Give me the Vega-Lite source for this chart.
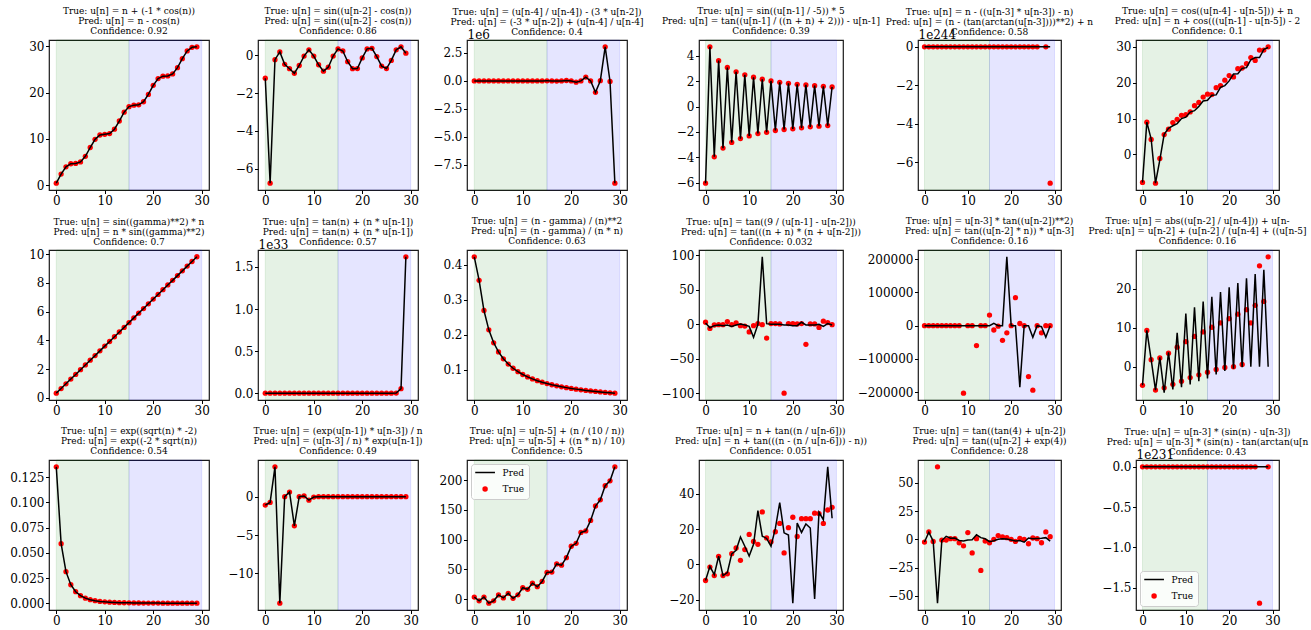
{
"$schema": "https://vega.github.io/schema/vega-lite/v6.json",
"background": "white",
"padding": {"left": 9, "top": 6, "right": 0, "bottom": 0},
"autosize": {"type": "pad"},
"datasets": {"regions": [{"part": "train", "from": 0, "to": 15}, {"part": "test", "from": 15, "to": 30}]},
"columns": 11,
"bounds": "flush",
"spacing": {"row": 60, "column": 0},
"resolve": {"scale": {"x": "independent", "y": "independent", "color": "independent", "shape": "independent", "stroke": "independent"}},
"config": {
  "view": {"stroke": "#1a1a1a", "strokeWidth": 1.2},
  "axis": {"grid": false, "domain": false, "tickColor": "black", "tickSize": 3.5, "tickWidth": 1, "labelFont": "DejaVu Serif", "labelFontSize": 12, "labelColor": "black", "labelFlush": false, "labelOverlap": false, "titleFont": "DejaVu Serif", "titleFontSize": 12, "titleFontWeight": "normal", "titleColor": "black"},
  "axisX": {"labelPadding": 2},
  "axisY": {"labelPadding": 1.5},
  "title": {"font": "DejaVu Serif", "fontSize": 9, "fontWeight": "normal", "color": "black", "lineHeight": 10.2, "baseline": "bottom", "offset": 3, "frame": "group", "anchor": "middle"}
},
"concat": [
{"width": 160, "height": 150, "title": {"text": ["True: u[n] = n + (-1 * cos(n))", "Pred: u[n] = n - cos(n)", "Confidence: 0.92"]},
 "data": {"values": [{"n":0,"actual":0.46,"predicted":0.46},{"n":1,"actual":2.42,"predicted":2.42},{"n":2,"actual":3.99,"predicted":3.99},{"n":3,"actual":4.65,"predicted":4.65},{"n":4,"actual":4.72,"predicted":4.72},{"n":5,"actual":5.04,"predicted":5.04},{"n":6,"actual":6.25,"predicted":6.25},{"n":7,"actual":8.15,"predicted":8.15},{"n":8,"actual":9.91,"predicted":9.91},{"n":9,"actual":10.84,"predicted":10.84},{"n":10,"actual":11.0,"predicted":11.0},{"n":11,"actual":11.16,"predicted":11.16},{"n":12,"actual":12.09,"predicted":12.09},{"n":13,"actual":13.86,"predicted":13.86},{"n":14,"actual":15.76,"predicted":15.76},{"n":15,"actual":16.96,"predicted":16.96},{"n":16,"actual":17.28,"predicted":17.28},{"n":17,"actual":17.34,"predicted":17.34},{"n":18,"actual":18.01,"predicted":18.01},{"n":19,"actual":19.59,"predicted":19.59},{"n":20,"actual":21.55,"predicted":21.55},{"n":21,"actual":23.0,"predicted":23.0},{"n":22,"actual":23.53,"predicted":23.53},{"n":23,"actual":23.58,"predicted":23.58},{"n":24,"actual":24.01,"predicted":24.01},{"n":25,"actual":25.35,"predicted":25.35},{"n":26,"actual":27.29,"predicted":27.29},{"n":27,"actual":28.96,"predicted":28.96},{"n":28,"actual":29.75,"predicted":29.75},{"n":29,"actual":29.85,"predicted":29.85}]},
 "layer": [
  {"data": {"name": "regions"}, "mark": {"type": "rect", "fillOpacity": 0.1, "strokeOpacity": 0.1, "strokeWidth": 1}, "encoding": {"x": {"field": "from", "type": "quantitative", "scale": {"domain": [-1.5, 31.5], "nice": false, "zero": false}, "axis": {"values": [0, 10, 20, 30], "tickCount": 10, "format": "d", "title": null}}, "x2": {"field": "to"}, "fill": {"field": "part", "type": "nominal", "scale": {"domain": ["train", "test"], "range": ["green", "blue"]}, "legend": null}, "stroke": {"field": "part", "type": "nominal", "scale": {"domain": ["train", "test"], "range": ["green", "blue"]}, "legend": null}}},
  {"mark": {"type": "circle", "color": "red", "size": 28, "opacity": 1}, "encoding": {"x": {"field": "n", "type": "quantitative"}, "y": {"field": "actual", "type": "quantitative", "scale": {"domain": [-1.01, 31.32], "nice": false, "zero": false}, "axis": {"values": [0, 10, 20, 30], "tickCount": 10, "format": "d", "title": null}}}},
  {"mark": {"type": "line", "color": "black", "strokeWidth": 1.5}, "encoding": {"x": {"field": "n", "type": "quantitative"}, "y": {"field": "predicted", "type": "quantitative", "scale": {"domain": [-1.01, 31.32], "nice": false, "zero": false}}}}
 ]},
{"width": 49, "height": 150, "data": {"values": []}, "mark": "point", "view": {"stroke": null}},
{"width": 160, "height": 150, "title": {"text": ["True: u[n] = sin((u[n-2] - cos(n))", "Pred: u[n] = sin((u[n-2] - cos(n))", "Confidence: 0.86"]},
 "data": {"values": [{"n":0,"actual":-1.21,"predicted":-1.21},{"n":1,"actual":-6.77,"predicted":-6.77},{"n":2,"actual":-0.23,"predicted":-0.23},{"n":3,"actual":0.18,"predicted":0.18},{"n":4,"actual":-0.48,"predicted":-0.48},{"n":5,"actual":-0.71,"predicted":-0.71},{"n":6,"actual":-0.95,"predicted":-0.95},{"n":7,"actual":-0.54,"predicted":-0.54},{"n":8,"actual":-0.04,"predicted":-0.04},{"n":9,"actual":0.29,"predicted":0.29},{"n":10,"actual":-0.04,"predicted":-0.04},{"n":11,"actual":-0.5,"predicted":-0.5},{"n":12,"actual":-0.84,"predicted":-0.84},{"n":13,"actual":-0.63,"predicted":-0.63},{"n":14,"actual":-0.04,"predicted":-0.04},{"n":15,"actual":0.34,"predicted":0.34},{"n":16,"actual":0.23,"predicted":0.23},{"n":17,"actual":-0.34,"predicted":-0.34},{"n":18,"actual":-0.71,"predicted":-0.71},{"n":19,"actual":-0.7,"predicted":-0.7},{"n":20,"actual":-0.14,"predicted":-0.14},{"n":21,"actual":0.34,"predicted":0.34},{"n":22,"actual":0.37,"predicted":0.37},{"n":23,"actual":-0.07,"predicted":-0.07},{"n":24,"actual":-0.57,"predicted":-0.57},{"n":25,"actual":-0.7,"predicted":-0.7},{"n":26,"actual":-0.27,"predicted":-0.27},{"n":27,"actual":0.29,"predicted":0.29},{"n":28,"actual":0.45,"predicted":0.45},{"n":29,"actual":0.11,"predicted":0.11}]},
 "layer": [
  {"data": {"name": "regions"}, "mark": {"type": "rect", "fillOpacity": 0.1, "strokeOpacity": 0.1, "strokeWidth": 1}, "encoding": {"x": {"field": "from", "type": "quantitative", "scale": {"domain": [-1.5, 31.5], "nice": false, "zero": false}, "axis": {"values": [0, 10, 20, 30], "tickCount": 10, "format": "d", "title": null}}, "x2": {"field": "to"}, "fill": {"field": "part", "type": "nominal", "scale": {"domain": ["train", "test"], "range": ["green", "blue"]}, "legend": null}, "stroke": {"field": "part", "type": "nominal", "scale": {"domain": ["train", "test"], "range": ["green", "blue"]}, "legend": null}}},
  {"mark": {"type": "circle", "color": "red", "size": 28, "opacity": 1}, "encoding": {"x": {"field": "n", "type": "quantitative"}, "y": {"field": "actual", "type": "quantitative", "scale": {"domain": [-7.13, 0.81], "nice": false, "zero": false}, "axis": {"values": [-6, -4, -2, 0], "tickCount": 10, "format": "d", "title": null}}}},
  {"mark": {"type": "line", "color": "black", "strokeWidth": 1.5}, "encoding": {"x": {"field": "n", "type": "quantitative"}, "y": {"field": "predicted", "type": "quantitative", "scale": {"domain": [-7.13, 0.81], "nice": false, "zero": false}}}}
 ]},
{"width": 49, "height": 150, "data": {"values": []}, "mark": "point", "view": {"stroke": null}},
{"width": 160, "height": 150, "title": {"text": ["True: u[n] = (u[n-4] / u[n-4]) - (3 * u[n-2])", "Pred: u[n] = (-3 * u[n-2]) + (u[n-4] / u[n-4]", "Confidence: 0.4"], "offset": -9},
 "data": {"values": [{"n":0,"actual":0.24,"predicted":0.24},{"n":1,"actual":-1.7,"predicted":-1.7},{"n":2,"actual":0.28,"predicted":0.28},{"n":3,"actual":6,"predicted":6},{"n":4,"actual":0.16,"predicted":0.16},{"n":5,"actual":-17,"predicted":-17},{"n":6,"actual":0.53,"predicted":0.53},{"n":7,"actual":52,"predicted":52},{"n":8,"actual":-0.6,"predicted":-0.6},{"n":9,"actual":-155,"predicted":-155},{"n":10,"actual":2.8,"predicted":2.8},{"n":11,"actual":465,"predicted":465},{"n":12,"actual":-7.4,"predicted":-7.4},{"n":13,"actual":-1395,"predicted":-1395},{"n":14,"actual":23,"predicted":23},{"n":15,"actual":4185,"predicted":4185},{"n":16,"actual":-68,"predicted":-68},{"n":17,"actual":-12553,"predicted":-12553},{"n":18,"actual":206,"predicted":206},{"n":19,"actual":37660,"predicted":37660},{"n":20,"actual":-617,"predicted":-617},{"n":21,"actual":-113000,"predicted":-113000},{"n":22,"actual":1852,"predicted":1852},{"n":23,"actual":339000,"predicted":339000},{"n":24,"actual":-5555,"predicted":-5555},{"n":25,"actual":-1017000,"predicted":-1017000},{"n":26,"actual":16667,"predicted":16667},{"n":27,"actual":3050000,"predicted":3050000},{"n":28,"actual":-50000,"predicted":-50000},{"n":29,"actual":-9150000,"predicted":-9150000}]},
 "layer": [
  {"data": {"name": "regions"}, "mark": {"type": "rect", "fillOpacity": 0.1, "strokeOpacity": 0.1, "strokeWidth": 1}, "encoding": {"x": {"field": "from", "type": "quantitative", "scale": {"domain": [-1.5, 31.5], "nice": false, "zero": false}, "axis": {"values": [0, 10, 20, 30], "tickCount": 10, "format": "d", "title": null}}, "x2": {"field": "to"}, "fill": {"field": "part", "type": "nominal", "scale": {"domain": ["train", "test"], "range": ["green", "blue"]}, "legend": null}, "stroke": {"field": "part", "type": "nominal", "scale": {"domain": ["train", "test"], "range": ["green", "blue"]}, "legend": null}}},
  {"mark": {"type": "circle", "color": "red", "size": 28, "opacity": 1}, "encoding": {"x": {"field": "n", "type": "quantitative"}, "y": {"field": "actual", "type": "quantitative", "scale": {"domain": [-9.76e6, 3.66e6], "nice": false, "zero": false}, "axis": {"values": [-7.5e6, -5e6, -2.5e6, 0, 2.5e6], "tickCount": 10, "labelExpr": "format(datum.value/1e6, '.1f')", "title": "1e6", "titleAngle": 0, "titleX": 0, "titleY": -2, "titleAlign": "left", "titleBaseline": "alphabetic"}}}},
  {"mark": {"type": "line", "color": "black", "strokeWidth": 1.5}, "encoding": {"x": {"field": "n", "type": "quantitative"}, "y": {"field": "predicted", "type": "quantitative", "scale": {"domain": [-9.76e6, 3.66e6], "nice": false, "zero": false}}}}
 ]},
{"width": 72, "height": 150, "data": {"values": []}, "mark": "point", "view": {"stroke": null}},
{"width": 144, "height": 150, "title": {"text": ["True: u[n] = sin((u[n-1] / -5)) * 5", "Pred: u[n] = tan((u[n-1] / ((n + n) + 2))) - u[n-1]", "Confidence: 0.39"]},
 "data": {"values": [{"n":0,"actual":-6.05,"predicted":-6.05},{"n":1,"actual":4.72,"predicted":4.72},{"n":2,"actual":-3.97,"predicted":-3.97},{"n":3,"actual":3.63,"predicted":3.63},{"n":4,"actual":-3.28,"predicted":-3.28},{"n":5,"actual":3.09,"predicted":3.09},{"n":6,"actual":-2.83,"predicted":-2.83},{"n":7,"actual":2.75,"predicted":2.75},{"n":8,"actual":-2.53,"predicted":-2.53},{"n":9,"actual":2.51,"predicted":2.51},{"n":10,"actual":-2.32,"predicted":-2.32},{"n":11,"actual":2.32,"predicted":2.32},{"n":12,"actual":-2.13,"predicted":-2.13},{"n":13,"actual":2.16,"predicted":2.16},{"n":14,"actual":-2.03,"predicted":-2.03},{"n":15,"actual":2.03,"predicted":2.03},{"n":16,"actual":-1.89,"predicted":-1.89},{"n":17,"actual":1.92,"predicted":1.92},{"n":18,"actual":-1.81,"predicted":-1.81},{"n":19,"actual":1.84,"predicted":1.84},{"n":20,"actual":-1.76,"predicted":-1.76},{"n":21,"actual":1.76,"predicted":1.76},{"n":22,"actual":-1.68,"predicted":-1.68},{"n":23,"actual":1.71,"predicted":1.71},{"n":24,"actual":-1.6,"predicted":-1.6},{"n":25,"actual":1.65,"predicted":1.65},{"n":26,"actual":-1.55,"predicted":-1.55},{"n":27,"actual":1.6,"predicted":1.6},{"n":28,"actual":-1.5,"predicted":-1.5},{"n":29,"actual":1.55,"predicted":1.55}]},
 "layer": [
  {"data": {"name": "regions"}, "mark": {"type": "rect", "fillOpacity": 0.1, "strokeOpacity": 0.1, "strokeWidth": 1}, "encoding": {"x": {"field": "from", "type": "quantitative", "scale": {"domain": [-1.5, 31.5], "nice": false, "zero": false}, "axis": {"values": [0, 10, 20, 30], "tickCount": 10, "format": "d", "title": null}}, "x2": {"field": "to"}, "fill": {"field": "part", "type": "nominal", "scale": {"domain": ["train", "test"], "range": ["green", "blue"]}, "legend": null}, "stroke": {"field": "part", "type": "nominal", "scale": {"domain": ["train", "test"], "range": ["green", "blue"]}, "legend": null}}},
  {"mark": {"type": "circle", "color": "red", "size": 28, "opacity": 1}, "encoding": {"x": {"field": "n", "type": "quantitative"}, "y": {"field": "actual", "type": "quantitative", "scale": {"domain": [-6.59, 5.26], "nice": false, "zero": false}, "axis": {"values": [-6, -4, -2, 0, 2, 4], "tickCount": 10, "format": "d", "title": null}}}},
  {"mark": {"type": "line", "color": "black", "strokeWidth": 1.5}, "encoding": {"x": {"field": "n", "type": "quantitative"}, "y": {"field": "predicted", "type": "quantitative", "scale": {"domain": [-6.59, 5.26], "nice": false, "zero": false}}}}
 ]},
{"width": 75, "height": 150, "data": {"values": []}, "mark": "point", "view": {"stroke": null}},
{"width": 143, "height": 150, "title": {"text": ["True: u[n] = n - ((u[n-3] * u[n-3]) - n)", "Pred: u[n] = (n - (tan(arctan(u[n-3])))**2) + n", "Confidence: 0.58"], "offset": -9},
 "data": {"values": [{"n":0,"actual":0,"predicted":0},{"n":1,"actual":0,"predicted":0},{"n":2,"actual":0,"predicted":0},{"n":3,"actual":0,"predicted":0},{"n":4,"actual":0,"predicted":0},{"n":5,"actual":0,"predicted":0},{"n":6,"actual":0,"predicted":0},{"n":7,"actual":0,"predicted":0},{"n":8,"actual":0,"predicted":0},{"n":9,"actual":0,"predicted":0},{"n":10,"actual":0,"predicted":0},{"n":11,"actual":0,"predicted":0},{"n":12,"actual":0,"predicted":0},{"n":13,"actual":0,"predicted":0},{"n":14,"actual":0,"predicted":0},{"n":15,"actual":0,"predicted":0},{"n":16,"actual":0,"predicted":0},{"n":17,"actual":0,"predicted":0},{"n":18,"actual":0,"predicted":0},{"n":19,"actual":0,"predicted":0},{"n":20,"actual":0,"predicted":0},{"n":21,"actual":0,"predicted":0},{"n":22,"actual":0,"predicted":0},{"n":23,"actual":0,"predicted":0},{"n":24,"actual":0,"predicted":0},{"n":25,"actual":0,"predicted":0},{"n":26,"actual":0,"predicted":0},{"n":27,"actual":null,"predicted":0},{"n":28,"actual":0,"predicted":0},{"n":29,"actual":-7.1e244,"predicted":0}]},
 "layer": [
  {"data": {"name": "regions"}, "mark": {"type": "rect", "fillOpacity": 0.1, "strokeOpacity": 0.1, "strokeWidth": 1}, "encoding": {"x": {"field": "from", "type": "quantitative", "scale": {"domain": [-1.5, 31.5], "nice": false, "zero": false}, "axis": {"values": [0, 10, 20, 30], "tickCount": 10, "format": "d", "title": null}}, "x2": {"field": "to"}, "fill": {"field": "part", "type": "nominal", "scale": {"domain": ["train", "test"], "range": ["green", "blue"]}, "legend": null}, "stroke": {"field": "part", "type": "nominal", "scale": {"domain": ["train", "test"], "range": ["green", "blue"]}, "legend": null}}},
  {"mark": {"type": "circle", "color": "red", "size": 28, "opacity": 1}, "encoding": {"x": {"field": "n", "type": "quantitative"}, "y": {"field": "actual", "type": "quantitative", "scale": {"domain": [-7.455e244, 0.355e244], "nice": false, "zero": false}, "axis": {"values": [-6e244, -4e244, -2e244, 0], "tickCount": 10, "labelExpr": "format(datum.value/1e244, '.0f')", "title": "1e244", "titleAngle": 0, "titleX": 0, "titleY": -2, "titleAlign": "left", "titleBaseline": "alphabetic"}}}},
  {"mark": {"type": "line", "color": "black", "strokeWidth": 1.5}, "encoding": {"x": {"field": "n", "type": "quantitative"}, "y": {"field": "predicted", "type": "quantitative", "scale": {"domain": [-7.455e244, 0.355e244], "nice": false, "zero": false}}}}
 ]},
{"width": 75, "height": 150, "data": {"values": []}, "mark": "point", "view": {"stroke": null}},
{"width": 143, "height": 150, "title": {"text": ["True: u[n] = cos((u[n-4] - u[n-5])) + n", "Pred: u[n] = n + cos(((u[n-1] - u[n-5]) - 2", "Confidence: 0.1"]},
 "data": {"values": [{"n":0,"actual":-7.8,"predicted":-7.8},{"n":1,"actual":9.0,"predicted":9.0},{"n":2,"actual":4.2,"predicted":4.3},{"n":3,"actual":-8.0,"predicted":-8.0},{"n":4,"actual":-1.1,"predicted":-1.5},{"n":5,"actual":5.55,"predicted":5.6},{"n":6,"actual":7.05,"predicted":7.3},{"n":7,"actual":8.9,"predicted":8.0},{"n":8,"actual":9.8,"predicted":8.6},{"n":9,"actual":10.9,"predicted":10.0},{"n":10,"actual":11.1,"predicted":10.4},{"n":11,"actual":11.85,"predicted":11.8},{"n":12,"actual":13.6,"predicted":12.2},{"n":13,"actual":14.5,"predicted":13.4},{"n":14,"actual":16.0,"predicted":14.9},{"n":15,"actual":16.8,"predicted":15.1},{"n":16,"actual":16.7,"predicted":16.5},{"n":17,"actual":18.6,"predicted":16.6},{"n":18,"actual":19.2,"predicted":18.7},{"n":19,"actual":20.7,"predicted":19.2},{"n":20,"actual":22.0,"predicted":20.5},{"n":21,"actual":21.6,"predicted":22.4},{"n":22,"actual":23.9,"predicted":22.5},{"n":23,"actual":24.1,"predicted":24.0},{"n":24,"actual":25.3,"predicted":24.2},{"n":25,"actual":27.0,"predicted":26.4},{"n":26,"actual":26.2,"predicted":27.0},{"n":27,"actual":29.1,"predicted":27.0},{"n":28,"actual":29.1,"predicted":29.3},{"n":29,"actual":30.0,"predicted":29.8}]},
 "layer": [
  {"data": {"name": "regions"}, "mark": {"type": "rect", "fillOpacity": 0.1, "strokeOpacity": 0.1, "strokeWidth": 1}, "encoding": {"x": {"field": "from", "type": "quantitative", "scale": {"domain": [-1.5, 31.5], "nice": false, "zero": false}, "axis": {"values": [0, 10, 20, 30], "tickCount": 10, "format": "d", "title": null}}, "x2": {"field": "to"}, "fill": {"field": "part", "type": "nominal", "scale": {"domain": ["train", "test"], "range": ["green", "blue"]}, "legend": null}, "stroke": {"field": "part", "type": "nominal", "scale": {"domain": ["train", "test"], "range": ["green", "blue"]}, "legend": null}}},
  {"mark": {"type": "circle", "color": "red", "size": 28, "opacity": 1}, "encoding": {"x": {"field": "n", "type": "quantitative"}, "y": {"field": "actual", "type": "quantitative", "scale": {"domain": [-9.9, 31.9], "nice": false, "zero": false}, "axis": {"values": [0, 10, 20, 30], "tickCount": 10, "format": "d", "title": null}}}},
  {"mark": {"type": "line", "color": "black", "strokeWidth": 1.5}, "encoding": {"x": {"field": "n", "type": "quantitative"}, "y": {"field": "predicted", "type": "quantitative", "scale": {"domain": [-9.9, 31.9], "nice": false, "zero": false}}}}
 ]},
{"width": 160, "height": 150, "title": {"text": ["True: u[n] = sin((gamma)**2) * n", "Pred: u[n] = n * sin((gamma)**2)", "Confidence: 0.7"], "offset": 1},
 "data": {"values": [{"n":0,"actual":0.33,"predicted":0.33},{"n":1,"actual":0.65,"predicted":0.65},{"n":2,"actual":0.98,"predicted":0.98},{"n":3,"actual":1.31,"predicted":1.31},{"n":4,"actual":1.63,"predicted":1.63},{"n":5,"actual":1.96,"predicted":1.96},{"n":6,"actual":2.29,"predicted":2.29},{"n":7,"actual":2.62,"predicted":2.62},{"n":8,"actual":2.94,"predicted":2.94},{"n":9,"actual":3.27,"predicted":3.27},{"n":10,"actual":3.6,"predicted":3.6},{"n":11,"actual":3.92,"predicted":3.92},{"n":12,"actual":4.25,"predicted":4.25},{"n":13,"actual":4.58,"predicted":4.58},{"n":14,"actual":4.9,"predicted":4.9},{"n":15,"actual":5.23,"predicted":5.23},{"n":16,"actual":5.56,"predicted":5.56},{"n":17,"actual":5.89,"predicted":5.89},{"n":18,"actual":6.21,"predicted":6.21},{"n":19,"actual":6.54,"predicted":6.54},{"n":20,"actual":6.87,"predicted":6.87},{"n":21,"actual":7.19,"predicted":7.19},{"n":22,"actual":7.52,"predicted":7.52},{"n":23,"actual":7.85,"predicted":7.85},{"n":24,"actual":8.17,"predicted":8.17},{"n":25,"actual":8.5,"predicted":8.5},{"n":26,"actual":8.83,"predicted":8.83},{"n":27,"actual":9.16,"predicted":9.16},{"n":28,"actual":9.48,"predicted":9.48},{"n":29,"actual":9.81,"predicted":9.81}]},
 "layer": [
  {"data": {"name": "regions"}, "mark": {"type": "rect", "fillOpacity": 0.1, "strokeOpacity": 0.1, "strokeWidth": 1}, "encoding": {"x": {"field": "from", "type": "quantitative", "scale": {"domain": [-1.5, 31.5], "nice": false, "zero": false}, "axis": {"values": [0, 10, 20, 30], "tickCount": 10, "format": "d", "title": null}}, "x2": {"field": "to"}, "fill": {"field": "part", "type": "nominal", "scale": {"domain": ["train", "test"], "range": ["green", "blue"]}, "legend": null}, "stroke": {"field": "part", "type": "nominal", "scale": {"domain": ["train", "test"], "range": ["green", "blue"]}, "legend": null}}},
  {"mark": {"type": "circle", "color": "red", "size": 28, "opacity": 1}, "encoding": {"x": {"field": "n", "type": "quantitative"}, "y": {"field": "actual", "type": "quantitative", "scale": {"domain": [-0.147, 10.28], "nice": false, "zero": false}, "axis": {"values": [0, 2, 4, 6, 8, 10], "tickCount": 10, "format": "d", "title": null}}}},
  {"mark": {"type": "line", "color": "black", "strokeWidth": 1.5}, "encoding": {"x": {"field": "n", "type": "quantitative"}, "y": {"field": "predicted", "type": "quantitative", "scale": {"domain": [-0.147, 10.28], "nice": false, "zero": false}}}}
 ]},
{"width": 49, "height": 150, "data": {"values": []}, "mark": "point", "view": {"stroke": null}},
{"width": 160, "height": 150, "title": {"text": ["True: u[n] = tan(n) + (n * u[n-1])", "Pred: u[n] = tan(n) + (n * u[n-1])", "Confidence: 0.57"], "offset": -9},
 "data": {"values": [{"n":0,"actual":0,"predicted":0},{"n":1,"actual":0,"predicted":0},{"n":2,"actual":0,"predicted":0},{"n":3,"actual":0,"predicted":0},{"n":4,"actual":0,"predicted":0},{"n":5,"actual":0,"predicted":0},{"n":6,"actual":0,"predicted":0},{"n":7,"actual":0,"predicted":0},{"n":8,"actual":0,"predicted":0},{"n":9,"actual":0,"predicted":0},{"n":10,"actual":0,"predicted":0},{"n":11,"actual":0,"predicted":0},{"n":12,"actual":0,"predicted":0},{"n":13,"actual":0,"predicted":0},{"n":14,"actual":0,"predicted":0},{"n":15,"actual":0,"predicted":0},{"n":16,"actual":0,"predicted":0},{"n":17,"actual":0,"predicted":0},{"n":18,"actual":0,"predicted":0},{"n":19,"actual":0,"predicted":0},{"n":20,"actual":0,"predicted":0},{"n":21,"actual":0,"predicted":0},{"n":22,"actual":0,"predicted":0},{"n":23,"actual":0,"predicted":0},{"n":24,"actual":0,"predicted":0},{"n":25,"actual":0,"predicted":0},{"n":26,"actual":0,"predicted":0},{"n":27,"actual":1.9e30,"predicted":1.9e30},{"n":28,"actual":5.4e31,"predicted":5.4e31},{"n":29,"actual":1.62e33,"predicted":1.62e33}]},
 "layer": [
  {"data": {"name": "regions"}, "mark": {"type": "rect", "fillOpacity": 0.1, "strokeOpacity": 0.1, "strokeWidth": 1}, "encoding": {"x": {"field": "from", "type": "quantitative", "scale": {"domain": [-1.5, 31.5], "nice": false, "zero": false}, "axis": {"values": [0, 10, 20, 30], "tickCount": 10, "format": "d", "title": null}}, "x2": {"field": "to"}, "fill": {"field": "part", "type": "nominal", "scale": {"domain": ["train", "test"], "range": ["green", "blue"]}, "legend": null}, "stroke": {"field": "part", "type": "nominal", "scale": {"domain": ["train", "test"], "range": ["green", "blue"]}, "legend": null}}},
  {"mark": {"type": "circle", "color": "red", "size": 28, "opacity": 1}, "encoding": {"x": {"field": "n", "type": "quantitative"}, "y": {"field": "actual", "type": "quantitative", "scale": {"domain": [-0.081e33, 1.701e33], "nice": false, "zero": false}, "axis": {"values": [0, 0.5e33, 1e33, 1.5e33], "tickCount": 10, "labelExpr": "format(datum.value/1e33, '.1f')", "title": "1e33", "titleAngle": 0, "titleX": 0, "titleY": -2, "titleAlign": "left", "titleBaseline": "alphabetic"}}}},
  {"mark": {"type": "line", "color": "black", "strokeWidth": 1.5}, "encoding": {"x": {"field": "n", "type": "quantitative"}, "y": {"field": "predicted", "type": "quantitative", "scale": {"domain": [-0.081e33, 1.701e33], "nice": false, "zero": false}}}}
 ]},
{"width": 49, "height": 150, "data": {"values": []}, "mark": "point", "view": {"stroke": null}},
{"width": 160, "height": 150, "title": {"text": ["True: u[n] = (n - gamma) / (n)**2", "Pred: u[n] = (n - gamma) / (n * n)", "Confidence: 0.63"]},
 "data": {"values": [{"n":0,"actual":0.4228,"predicted":0.4228},{"n":1,"actual":0.3557,"predicted":0.3557},{"n":2,"actual":0.2692,"predicted":0.2692},{"n":3,"actual":0.2139,"predicted":0.2139},{"n":4,"actual":0.1769,"predicted":0.1769},{"n":5,"actual":0.1506,"predicted":0.1506},{"n":6,"actual":0.1311,"predicted":0.1311},{"n":7,"actual":0.116,"predicted":0.116},{"n":8,"actual":0.104,"predicted":0.104},{"n":9,"actual":0.0942,"predicted":0.0942},{"n":10,"actual":0.0861,"predicted":0.0861},{"n":11,"actual":0.0793,"predicted":0.0793},{"n":12,"actual":0.0735,"predicted":0.0735},{"n":13,"actual":0.0685,"predicted":0.0685},{"n":14,"actual":0.0641,"predicted":0.0641},{"n":15,"actual":0.0602,"predicted":0.0602},{"n":16,"actual":0.0568,"predicted":0.0568},{"n":17,"actual":0.0538,"predicted":0.0538},{"n":18,"actual":0.051,"predicted":0.051},{"n":19,"actual":0.0486,"predicted":0.0486},{"n":20,"actual":0.0463,"predicted":0.0463},{"n":21,"actual":0.0443,"predicted":0.0443},{"n":22,"actual":0.0424,"predicted":0.0424},{"n":23,"actual":0.0407,"predicted":0.0407},{"n":24,"actual":0.0391,"predicted":0.0391},{"n":25,"actual":0.0376,"predicted":0.0376},{"n":26,"actual":0.0362,"predicted":0.0362},{"n":27,"actual":0.035,"predicted":0.035},{"n":28,"actual":0.0338,"predicted":0.0338},{"n":29,"actual":0.0327,"predicted":0.0327}]},
 "layer": [
  {"data": {"name": "regions"}, "mark": {"type": "rect", "fillOpacity": 0.1, "strokeOpacity": 0.1, "strokeWidth": 1}, "encoding": {"x": {"field": "from", "type": "quantitative", "scale": {"domain": [-1.5, 31.5], "nice": false, "zero": false}, "axis": {"values": [0, 10, 20, 30], "tickCount": 10, "format": "d", "title": null}}, "x2": {"field": "to"}, "fill": {"field": "part", "type": "nominal", "scale": {"domain": ["train", "test"], "range": ["green", "blue"]}, "legend": null}, "stroke": {"field": "part", "type": "nominal", "scale": {"domain": ["train", "test"], "range": ["green", "blue"]}, "legend": null}}},
  {"mark": {"type": "circle", "color": "red", "size": 28, "opacity": 1}, "encoding": {"x": {"field": "n", "type": "quantitative"}, "y": {"field": "actual", "type": "quantitative", "scale": {"domain": [0.0132, 0.4423], "nice": false, "zero": false}, "axis": {"values": [0.1, 0.2, 0.3, 0.4], "tickCount": 10, "format": ".1f", "title": null}}}},
  {"mark": {"type": "line", "color": "black", "strokeWidth": 1.5}, "encoding": {"x": {"field": "n", "type": "quantitative"}, "y": {"field": "predicted", "type": "quantitative", "scale": {"domain": [0.0132, 0.4423], "nice": false, "zero": false}}}}
 ]},
{"width": 72, "height": 150, "data": {"values": []}, "mark": "point", "view": {"stroke": null}},
{"width": 144, "height": 150, "title": {"text": ["True: u[n] = tan((9 / (u[n-1] - u[n-2]))", "Pred: u[n] = tan(((n + n) * (n + u[n-2]))", "Confidence: 0.032"], "offset": 2.4},
 "data": {"values": [{"n":0,"actual":3,"predicted":2},{"n":1,"actual":-6,"predicted":-5},{"n":2,"actual":-1,"predicted":-2},{"n":3,"actual":-0.5,"predicted":-1},{"n":4,"actual":-0.5,"predicted":-2},{"n":5,"actual":4,"predicted":-1},{"n":6,"actual":-0.5,"predicted":-3},{"n":7,"actual":2,"predicted":-1},{"n":8,"actual":-2,"predicted":0.5},{"n":9,"actual":-2.5,"predicted":-1},{"n":10,"actual":-11,"predicted":-3},{"n":11,"actual":-2,"predicted":-19},{"n":12,"actual":1,"predicted":0},{"n":13,"actual":-0.5,"predicted":98},{"n":14,"actual":-20,"predicted":1},{"n":15,"actual":1,"predicted":0},{"n":16,"actual":1,"predicted":0},{"n":17,"actual":0.5,"predicted":0},{"n":18,"actual":-100,"predicted":-1},{"n":19,"actual":1,"predicted":-1},{"n":20,"actual":1,"predicted":-2},{"n":21,"actual":0.5,"predicted":-2},{"n":22,"actual":1,"predicted":3},{"n":23,"actual":-29,"predicted":-1},{"n":24,"actual":0.5,"predicted":-1},{"n":25,"actual":0.5,"predicted":-1},{"n":26,"actual":-4.5,"predicted":0},{"n":27,"actual":4.5,"predicted":-3},{"n":28,"actual":2.5,"predicted":1},{"n":29,"actual":-0.5,"predicted":-1}]},
 "layer": [
  {"data": {"name": "regions"}, "mark": {"type": "rect", "fillOpacity": 0.1, "strokeOpacity": 0.1, "strokeWidth": 1}, "encoding": {"x": {"field": "from", "type": "quantitative", "scale": {"domain": [-1.5, 31.5], "nice": false, "zero": false}, "axis": {"values": [0, 10, 20, 30], "tickCount": 10, "format": "d", "title": null}}, "x2": {"field": "to"}, "fill": {"field": "part", "type": "nominal", "scale": {"domain": ["train", "test"], "range": ["green", "blue"]}, "legend": null}, "stroke": {"field": "part", "type": "nominal", "scale": {"domain": ["train", "test"], "range": ["green", "blue"]}, "legend": null}}},
  {"mark": {"type": "circle", "color": "red", "size": 28, "opacity": 1}, "encoding": {"x": {"field": "n", "type": "quantitative"}, "y": {"field": "actual", "type": "quantitative", "scale": {"domain": [-109.9, 107.9], "nice": false, "zero": false}, "axis": {"values": [-100, -50, 0, 50, 100], "tickCount": 10, "format": "d", "title": null}}}},
  {"mark": {"type": "line", "color": "black", "strokeWidth": 1.5}, "encoding": {"x": {"field": "n", "type": "quantitative"}, "y": {"field": "predicted", "type": "quantitative", "scale": {"domain": [-109.9, 107.9], "nice": false, "zero": false}}}}
 ]},
{"width": 75, "height": 150, "data": {"values": []}, "mark": "point", "view": {"stroke": null}},
{"width": 143, "height": 150, "title": {"text": ["True: u[n] = u[n-3] * tan((u[n-2])**2)", "Pred: u[n] = tan((u[n-2] * n)) * u[n-3]", "Confidence: 0.16"]},
 "data": {"values": [{"n":0,"actual":0,"predicted":0},{"n":1,"actual":0,"predicted":0},{"n":2,"actual":0,"predicted":0},{"n":3,"actual":0,"predicted":0},{"n":4,"actual":0,"predicted":0},{"n":5,"actual":0,"predicted":0},{"n":6,"actual":0,"predicted":0},{"n":7,"actual":0,"predicted":0},{"n":8,"actual":0,"predicted":0},{"n":9,"actual":-203000,"predicted":0},{"n":10,"actual":0,"predicted":0},{"n":11,"actual":0,"predicted":0},{"n":12,"actual":-60000,"predicted":0},{"n":13,"actual":0,"predicted":0},{"n":14,"actual":0,"predicted":0},{"n":15,"actual":32000,"predicted":0},{"n":16,"actual":-13000,"predicted":7000},{"n":17,"actual":-1500,"predicted":0},{"n":18,"actual":-44000,"predicted":0},{"n":19,"actual":-21500,"predicted":207000},{"n":20,"actual":0,"predicted":0},{"n":21,"actual":84000,"predicted":0},{"n":22,"actual":6500,"predicted":-185000},{"n":23,"actual":0,"predicted":0},{"n":24,"actual":-153000,"predicted":0},{"n":25,"actual":-194000,"predicted":-35000},{"n":26,"actual":0,"predicted":0},{"n":27,"actual":-21500,"predicted":-3000},{"n":28,"actual":0,"predicted":-35000},{"n":29,"actual":0,"predicted":0}]},
 "layer": [
  {"data": {"name": "regions"}, "mark": {"type": "rect", "fillOpacity": 0.1, "strokeOpacity": 0.1, "strokeWidth": 1}, "encoding": {"x": {"field": "from", "type": "quantitative", "scale": {"domain": [-1.5, 31.5], "nice": false, "zero": false}, "axis": {"values": [0, 10, 20, 30], "tickCount": 10, "format": "d", "title": null}}, "x2": {"field": "to"}, "fill": {"field": "part", "type": "nominal", "scale": {"domain": ["train", "test"], "range": ["green", "blue"]}, "legend": null}, "stroke": {"field": "part", "type": "nominal", "scale": {"domain": ["train", "test"], "range": ["green", "blue"]}, "legend": null}}},
  {"mark": {"type": "circle", "color": "red", "size": 28, "opacity": 1}, "encoding": {"x": {"field": "n", "type": "quantitative"}, "y": {"field": "actual", "type": "quantitative", "scale": {"domain": [-223500, 227500], "nice": false, "zero": false}, "axis": {"values": [-200000, -100000, 0, 100000, 200000], "tickCount": 10, "format": "d", "title": null}}}},
  {"mark": {"type": "line", "color": "black", "strokeWidth": 1.5}, "encoding": {"x": {"field": "n", "type": "quantitative"}, "y": {"field": "predicted", "type": "quantitative", "scale": {"domain": [-223500, 227500], "nice": false, "zero": false}}}}
 ]},
{"width": 75, "height": 150, "data": {"values": []}, "mark": "point", "view": {"stroke": null}},
{"width": 143, "height": 150, "title": {"text": ["True: u[n] = abs((u[n-2] / u[n-4])) + u[n-", "Pred: u[n] = u[n-2] + (u[n-2] / (u[n-4] + ((u[n-5]", "Confidence: 0.16"], "dx": -10},
 "data": {"values": [{"n":0,"actual":-4.74,"predicted":-4.74},{"n":1,"actual":9.3,"predicted":9.3},{"n":2,"actual":1.8,"predicted":1.8},{"n":3,"actual":-5.95,"predicted":-6.0},{"n":4,"actual":2.24,"predicted":2.4},{"n":5,"actual":-5.4,"predicted":-6.6},{"n":6,"actual":3.45,"predicted":3.7},{"n":7,"actual":-4.5,"predicted":-5.8},{"n":8,"actual":5.0,"predicted":8.7},{"n":9,"actual":-3.7,"predicted":-5.2},{"n":10,"actual":6.4,"predicted":13.6},{"n":11,"actual":-2.76,"predicted":-4.5},{"n":12,"actual":7.76,"predicted":15.2},{"n":13,"actual":-2.07,"predicted":-3.7},{"n":14,"actual":8.9,"predicted":16.7},{"n":15,"actual":-1.38,"predicted":-3.0},{"n":16,"actual":10.1,"predicted":17.9},{"n":17,"actual":-0.7,"predicted":-2.0},{"n":18,"actual":11.2,"predicted":19.1},{"n":19,"actual":-0.17,"predicted":-1.1},{"n":20,"actual":12.3,"predicted":20.3},{"n":21,"actual":0.0,"predicted":-0.5},{"n":22,"actual":13.45,"predicted":21.4},{"n":23,"actual":0.6,"predicted":-0.1},{"n":24,"actual":14.6,"predicted":22.6},{"n":25,"actual":11.2,"predicted":0.0},{"n":26,"actual":15.7,"predicted":23.7},{"n":27,"actual":25.8,"predicted":0.0},{"n":28,"actual":16.7,"predicted":24.8},{"n":29,"actual":28.1,"predicted":0.0}]},
 "layer": [
  {"data": {"name": "regions"}, "mark": {"type": "rect", "fillOpacity": 0.1, "strokeOpacity": 0.1, "strokeWidth": 1}, "encoding": {"x": {"field": "from", "type": "quantitative", "scale": {"domain": [-1.5, 31.5], "nice": false, "zero": false}, "axis": {"values": [0, 10, 20, 30], "tickCount": 10, "format": "d", "title": null}}, "x2": {"field": "to"}, "fill": {"field": "part", "type": "nominal", "scale": {"domain": ["train", "test"], "range": ["green", "blue"]}, "legend": null}, "stroke": {"field": "part", "type": "nominal", "scale": {"domain": ["train", "test"], "range": ["green", "blue"]}, "legend": null}}},
  {"mark": {"type": "circle", "color": "red", "size": 28, "opacity": 1}, "encoding": {"x": {"field": "n", "type": "quantitative"}, "y": {"field": "actual", "type": "quantitative", "scale": {"domain": [-8.5, 29.85], "nice": false, "zero": false}, "axis": {"values": [0, 10, 20], "tickCount": 10, "format": "d", "title": null}}}},
  {"mark": {"type": "line", "color": "black", "strokeWidth": 1.5}, "encoding": {"x": {"field": "n", "type": "quantitative"}, "y": {"field": "predicted", "type": "quantitative", "scale": {"domain": [-8.5, 29.85], "nice": false, "zero": false}}}}
 ]},
{"width": 160, "height": 150, "title": {"text": ["True: u[n] = exp((sqrt(n) * -2)", "Pred: u[n] = exp((-2 * sqrt(n))", "Confidence: 0.54"]},
 "data": {"values": [{"n":0,"actual":0.1353,"predicted":0.1353},{"n":1,"actual":0.0591,"predicted":0.0591},{"n":2,"actual":0.0313,"predicted":0.0313},{"n":3,"actual":0.0183,"predicted":0.0183},{"n":4,"actual":0.0114,"predicted":0.0114},{"n":5,"actual":0.00745,"predicted":0.00745},{"n":6,"actual":0.00503,"predicted":0.00503},{"n":7,"actual":0.00349,"predicted":0.00349},{"n":8,"actual":0.00248,"predicted":0.00248},{"n":9,"actual":0.00179,"predicted":0.00179},{"n":10,"actual":0.00132,"predicted":0.00132},{"n":11,"actual":0.00098,"predicted":0.00098},{"n":12,"actual":0.00074,"predicted":0.00074},{"n":13,"actual":0.00056,"predicted":0.00056},{"n":14,"actual":0.00043,"predicted":0.00043},{"n":15,"actual":0.00034,"predicted":0.00034},{"n":16,"actual":0.00026,"predicted":0.00026},{"n":17,"actual":0.00021,"predicted":0.00021},{"n":18,"actual":0.00016,"predicted":0.00016},{"n":19,"actual":0.00013,"predicted":0.00013},{"n":20,"actual":0.000105,"predicted":0.000105},{"n":21,"actual":0.000084,"predicted":0.000084},{"n":22,"actual":0.000068,"predicted":0.000068},{"n":23,"actual":0.000056,"predicted":0.000056},{"n":24,"actual":0.000045,"predicted":0.000045},{"n":25,"actual":0.000037,"predicted":0.000037},{"n":26,"actual":0.000031,"predicted":0.000031},{"n":27,"actual":0.000025,"predicted":0.000025},{"n":28,"actual":0.000021,"predicted":0.000021},{"n":29,"actual":0.000018,"predicted":0.000018}]},
 "layer": [
  {"data": {"name": "regions"}, "mark": {"type": "rect", "fillOpacity": 0.1, "strokeOpacity": 0.1, "strokeWidth": 1}, "encoding": {"x": {"field": "from", "type": "quantitative", "scale": {"domain": [-1.5, 31.5], "nice": false, "zero": false}, "axis": {"values": [0, 10, 20, 30], "tickCount": 10, "format": "d", "title": null}}, "x2": {"field": "to"}, "fill": {"field": "part", "type": "nominal", "scale": {"domain": ["train", "test"], "range": ["green", "blue"]}, "legend": null}, "stroke": {"field": "part", "type": "nominal", "scale": {"domain": ["train", "test"], "range": ["green", "blue"]}, "legend": null}}},
  {"mark": {"type": "circle", "color": "red", "size": 28, "opacity": 1}, "encoding": {"x": {"field": "n", "type": "quantitative"}, "y": {"field": "actual", "type": "quantitative", "scale": {"domain": [-0.00675, 0.1421], "nice": false, "zero": false}, "axis": {"values": [0, 0.025, 0.05, 0.075, 0.1, 0.125], "tickCount": 10, "format": ".3f", "title": null}}}},
  {"mark": {"type": "line", "color": "black", "strokeWidth": 1.5}, "encoding": {"x": {"field": "n", "type": "quantitative"}, "y": {"field": "predicted", "type": "quantitative", "scale": {"domain": [-0.00675, 0.1421], "nice": false, "zero": false}}}}
 ]},
{"width": 49, "height": 150, "data": {"values": []}, "mark": "point", "view": {"stroke": null}},
{"width": 160, "height": 150, "title": {"text": ["True: u[n] = (exp(u[n-1]) * u[n-3]) / n", "Pred: u[n] = (u[n-3] / n) * exp(u[n-1])", "Confidence: 0.49"]},
 "data": {"values": [{"n":0,"actual":-1.1,"predicted":-1.1},{"n":1,"actual":-0.75,"predicted":-0.75},{"n":2,"actual":3.9,"predicted":3.9},{"n":3,"actual":-13.9,"predicted":-13.9},{"n":4,"actual":0,"predicted":0},{"n":5,"actual":0.6,"predicted":0.6},{"n":6,"actual":-3.8,"predicted":-3.8},{"n":7,"actual":0,"predicted":0},{"n":8,"actual":0.1,"predicted":0.1},{"n":9,"actual":-0.45,"predicted":-0.45},{"n":10,"actual":-0.05,"predicted":-0.05},{"n":11,"actual":0,"predicted":0},{"n":12,"actual":0,"predicted":0},{"n":13,"actual":0,"predicted":0},{"n":14,"actual":0,"predicted":0},{"n":15,"actual":0,"predicted":0},{"n":16,"actual":0,"predicted":0},{"n":17,"actual":0,"predicted":0},{"n":18,"actual":0,"predicted":0},{"n":19,"actual":0,"predicted":0},{"n":20,"actual":0,"predicted":0},{"n":21,"actual":0,"predicted":0},{"n":22,"actual":0,"predicted":0},{"n":23,"actual":0,"predicted":0},{"n":24,"actual":0,"predicted":0},{"n":25,"actual":0,"predicted":0},{"n":26,"actual":0,"predicted":0},{"n":27,"actual":0,"predicted":0},{"n":28,"actual":0,"predicted":0},{"n":29,"actual":0,"predicted":0}]},
 "layer": [
  {"data": {"name": "regions"}, "mark": {"type": "rect", "fillOpacity": 0.1, "strokeOpacity": 0.1, "strokeWidth": 1}, "encoding": {"x": {"field": "from", "type": "quantitative", "scale": {"domain": [-1.5, 31.5], "nice": false, "zero": false}, "axis": {"values": [0, 10, 20, 30], "tickCount": 10, "format": "d", "title": null}}, "x2": {"field": "to"}, "fill": {"field": "part", "type": "nominal", "scale": {"domain": ["train", "test"], "range": ["green", "blue"]}, "legend": null}, "stroke": {"field": "part", "type": "nominal", "scale": {"domain": ["train", "test"], "range": ["green", "blue"]}, "legend": null}}},
  {"mark": {"type": "circle", "color": "red", "size": 28, "opacity": 1}, "encoding": {"x": {"field": "n", "type": "quantitative"}, "y": {"field": "actual", "type": "quantitative", "scale": {"domain": [-14.79, 4.79], "nice": false, "zero": false}, "axis": {"values": [-10, -5, 0], "tickCount": 10, "format": "d", "title": null}}}},
  {"mark": {"type": "line", "color": "black", "strokeWidth": 1.5}, "encoding": {"x": {"field": "n", "type": "quantitative"}, "y": {"field": "predicted", "type": "quantitative", "scale": {"domain": [-14.79, 4.79], "nice": false, "zero": false}}}}
 ]},
{"width": 49, "height": 150, "data": {"values": []}, "mark": "point", "view": {"stroke": null}},
{"width": 160, "height": 150, "title": {"text": ["True: u[n] = u[n-5] + (n / (10 / n))", "Pred: u[n] = u[n-5] + ((n * n) / 10)", "Confidence: 0.5"]},
 "data": {"values": [{"n":0,"actual":3.4,"predicted":3.4},{"n":1,"actual":-2.8,"predicted":-2.8},{"n":2,"actual":3.4,"predicted":3.4},{"n":3,"actual":-6.8,"predicted":-6.8},{"n":4,"actual":-2.8,"predicted":-2.8},{"n":5,"actual":7.0,"predicted":7.0},{"n":6,"actual":2.1,"predicted":2.1},{"n":7,"actual":9.8,"predicted":9.8},{"n":8,"actual":1.3,"predicted":1.3},{"n":9,"actual":7.2,"predicted":7.2},{"n":10,"actual":19.1,"predicted":19.1},{"n":11,"actual":16.5,"predicted":16.5},{"n":12,"actual":26.7,"predicted":26.7},{"n":13,"actual":20.9,"predicted":20.9},{"n":14,"actual":29.7,"predicted":29.7},{"n":15,"actual":44.7,"predicted":44.7},{"n":16,"actual":45.4,"predicted":45.4},{"n":17,"actual":59.1,"predicted":59.1},{"n":18,"actual":57.0,"predicted":57.0},{"n":19,"actual":69.7,"predicted":69.7},{"n":20,"actual":88.8,"predicted":88.8},{"n":21,"actual":93.8,"predicted":93.8},{"n":22,"actual":112.0,"predicted":112.0},{"n":23,"actual":114.6,"predicted":114.6},{"n":24,"actual":132.2,"predicted":132.2},{"n":25,"actual":156.4,"predicted":156.4},{"n":26,"actual":166.7,"predicted":166.7},{"n":27,"actual":190.4,"predicted":190.4},{"n":28,"actual":198.7,"predicted":198.7},{"n":29,"actual":222.2,"predicted":222.2}]},
 "layer": [
  {"data": {"name": "regions"}, "transform": [{"filter": "datum.part === 'train'"}], "mark": {"type": "rect", "fill": "green", "stroke": "green", "fillOpacity": 0.1, "strokeOpacity": 0.1, "strokeWidth": 1}, "encoding": {"x": {"field": "from", "type": "quantitative", "scale": {"domain": [-1.5, 31.5], "nice": false, "zero": false}, "axis": {"values": [0, 10, 20, 30], "tickCount": 10, "format": "d", "title": null}}, "x2": {"field": "to"}}},
  {"data": {"name": "regions"}, "transform": [{"filter": "datum.part === 'test'"}], "mark": {"type": "rect", "fill": "blue", "stroke": "blue", "fillOpacity": 0.1, "strokeOpacity": 0.1, "strokeWidth": 1}, "encoding": {"x": {"field": "from", "type": "quantitative"}, "x2": {"field": "to"}}},
  {"mark": {"type": "point", "filled": true, "size": 28, "opacity": 1}, "encoding": {"x": {"field": "n", "type": "quantitative"}, "y": {"field": "actual", "type": "quantitative", "scale": {"domain": [-18.25, 233.65], "nice": false, "zero": false}, "axis": {"values": [0, 50, 100, 150, 200], "tickCount": 10, "format": "d", "title": null}},
    "color": {"datum": "True", "type": "nominal", "scale": {"domain": ["Pred", "True"], "range": ["black", "red"]}, "legend": {"title": null, "orient": "top-left", "offset": 4, "padding": 4, "rowPadding": 4.5, "symbolOffset": 5.6, "labelOffset": 13, "symbolSize": 30, "symbolStrokeWidth": 1.5, "labelFont": "DejaVu Serif", "labelFontSize": 9, "labelColor": "black", "fillColor": "rgba(255,255,255,0.8)", "strokeColor": "#cccccc", "cornerRadius": 3}},
    "shape": {"datum": "True", "type": "nominal", "scale": {"domain": ["Pred", "True"], "range": ["M-3.6,0H3.6", "circle"]}, "legend": {"title": null, "orient": "top-left", "offset": 4, "padding": 4, "rowPadding": 4.5, "symbolOffset": 5.6, "labelOffset": 13, "symbolSize": 30, "symbolStrokeWidth": 1.5, "labelFont": "DejaVu Serif", "labelFontSize": 9, "labelColor": "black", "fillColor": "rgba(255,255,255,0.8)", "strokeColor": "#cccccc", "cornerRadius": 3}},
    "stroke": {"datum": "True", "type": "nominal", "scale": {"domain": ["Pred", "True"], "range": ["black", "transparent"]}, "legend": {"title": null, "orient": "top-left", "offset": 4, "padding": 4, "rowPadding": 4.5, "symbolOffset": 5.6, "labelOffset": 13, "symbolSize": 30, "symbolStrokeWidth": 1.5, "labelFont": "DejaVu Serif", "labelFontSize": 9, "labelColor": "black", "fillColor": "rgba(255,255,255,0.8)", "strokeColor": "#cccccc", "cornerRadius": 3}}}},
  {"mark": {"type": "line", "color": "black", "strokeWidth": 1.5}, "encoding": {"x": {"field": "n", "type": "quantitative"}, "y": {"field": "predicted", "type": "quantitative", "scale": {"domain": [-18.25, 233.65], "nice": false, "zero": false}}}}
 ]},
{"width": 72, "height": 150, "data": {"values": []}, "mark": "point", "view": {"stroke": null}},
{"width": 144, "height": 150, "title": {"text": ["True: u[n] = n + tan((n / u[n-6]))", "Pred: u[n] = n + tan(((n - (n / u[n-6])) - n))", "Confidence: 0.051"]},
 "data": {"values": [{"n":0,"actual":-9.1,"predicted":-9.1},{"n":1,"actual":-1.5,"predicted":-1.1},{"n":2,"actual":-6.3,"predicted":-5.8},{"n":3,"actual":4.6,"predicted":4.6},{"n":4,"actual":-6.3,"predicted":-6.3},{"n":5,"actual":-5.3,"predicted":-4.6},{"n":6,"actual":6.1,"predicted":6.0},{"n":7,"actual":9.3,"predicted":8.0},{"n":8,"actual":2.3,"predicted":15.5},{"n":9,"actual":8.4,"predicted":10.3},{"n":10,"actual":17.0,"predicted":4.8},{"n":11,"actual":13.0,"predicted":11.4},{"n":12,"actual":11.4,"predicted":30.5},{"n":13,"actual":29.7,"predicted":16.0},{"n":14,"actual":15.0,"predicted":14.7},{"n":15,"actual":12.8,"predicted":10.3},{"n":16,"actual":18.5,"predicted":20.4},{"n":17,"actual":23.2,"predicted":35.0},{"n":18,"actual":6.5,"predicted":17.9},{"n":19,"actual":20.8,"predicted":16.6},{"n":20,"actual":26.7,"predicted":-21.9},{"n":21,"actual":15.8,"predicted":23.4},{"n":22,"actual":25.9,"predicted":18.1},{"n":23,"actual":25.9,"predicted":22.9},{"n":24,"actual":25.9,"predicted":20.6},{"n":25,"actual":29.0,"predicted":-19.6},{"n":26,"actual":28.8,"predicted":29.5},{"n":27,"actual":23.2,"predicted":25.3},{"n":28,"actual":30.8,"predicted":55.2},{"n":29,"actual":32.3,"predicted":26.1}]},
 "layer": [
  {"data": {"name": "regions"}, "mark": {"type": "rect", "fillOpacity": 0.1, "strokeOpacity": 0.1, "strokeWidth": 1}, "encoding": {"x": {"field": "from", "type": "quantitative", "scale": {"domain": [-1.5, 31.5], "nice": false, "zero": false}, "axis": {"values": [0, 10, 20, 30], "tickCount": 10, "format": "d", "title": null}}, "x2": {"field": "to"}, "fill": {"field": "part", "type": "nominal", "scale": {"domain": ["train", "test"], "range": ["green", "blue"]}, "legend": null}, "stroke": {"field": "part", "type": "nominal", "scale": {"domain": ["train", "test"], "range": ["green", "blue"]}, "legend": null}}},
  {"mark": {"type": "circle", "color": "red", "size": 28, "opacity": 1}, "encoding": {"x": {"field": "n", "type": "quantitative"}, "y": {"field": "actual", "type": "quantitative", "scale": {"domain": [-25.8, 59.1], "nice": false, "zero": false}, "axis": {"values": [-20, 0, 20, 40], "tickCount": 10, "format": "d", "title": null}}}},
  {"mark": {"type": "line", "color": "black", "strokeWidth": 1.5}, "encoding": {"x": {"field": "n", "type": "quantitative"}, "y": {"field": "predicted", "type": "quantitative", "scale": {"domain": [-25.8, 59.1], "nice": false, "zero": false}}}}
 ]},
{"width": 75, "height": 150, "data": {"values": []}, "mark": "point", "view": {"stroke": null}},
{"width": 143, "height": 150, "title": {"text": ["True: u[n] = tan((tan(4) + u[n-2])", "Pred: u[n] = tan((u[n-2] + exp(4))", "Confidence: 0.28"]},
 "data": {"values": [{"n":0,"actual":-2.4,"predicted":-2.4},{"n":1,"actual":6.6,"predicted":6.3},{"n":2,"actual":-1.8,"predicted":-1.5},{"n":3,"actual":64.2,"predicted":-56.5},{"n":4,"actual":-0.6,"predicted":-1.0},{"n":5,"actual":-0.6,"predicted":2.7},{"n":6,"actual":0.6,"predicted":1.0},{"n":7,"actual":0.6,"predicted":1.2},{"n":8,"actual":-3.0,"predicted":-1.0},{"n":9,"actual":-5.7,"predicted":-1.5},{"n":10,"actual":6.0,"predicted":-0.5},{"n":11,"actual":-12.0,"predicted":-0.3},{"n":12,"actual":0.6,"predicted":4.0},{"n":13,"actual":-27.5,"predicted":1.5},{"n":14,"actual":-1.5,"predicted":0.5},{"n":15,"actual":-3.0,"predicted":-2.0},{"n":16,"actual":0.0,"predicted":-1.2},{"n":17,"actual":3.3,"predicted":0.0},{"n":18,"actual":2.1,"predicted":0.5},{"n":19,"actual":1.5,"predicted":0.3},{"n":20,"actual":0.0,"predicted":-0.5},{"n":21,"actual":-1.8,"predicted":-1.5},{"n":22,"actual":0.9,"predicted":-1.0},{"n":23,"actual":0.0,"predicted":-2.5},{"n":24,"actual":-3.9,"predicted":1.2},{"n":25,"actual":1.2,"predicted":0.5},{"n":26,"actual":0.6,"predicted":0.8},{"n":27,"actual":-3.0,"predicted":1.0},{"n":28,"actual":6.6,"predicted":1.5},{"n":29,"actual":2.4,"predicted":-1.5}]},
 "layer": [
  {"data": {"name": "regions"}, "mark": {"type": "rect", "fillOpacity": 0.1, "strokeOpacity": 0.1, "strokeWidth": 1}, "encoding": {"x": {"field": "from", "type": "quantitative", "scale": {"domain": [-1.5, 31.5], "nice": false, "zero": false}, "axis": {"values": [0, 10, 20, 30], "tickCount": 10, "format": "d", "title": null}}, "x2": {"field": "to"}, "fill": {"field": "part", "type": "nominal", "scale": {"domain": ["train", "test"], "range": ["green", "blue"]}, "legend": null}, "stroke": {"field": "part", "type": "nominal", "scale": {"domain": ["train", "test"], "range": ["green", "blue"]}, "legend": null}}},
  {"mark": {"type": "circle", "color": "red", "size": 28, "opacity": 1}, "encoding": {"x": {"field": "n", "type": "quantitative"}, "y": {"field": "actual", "type": "quantitative", "scale": {"domain": [-62.5, 70.2], "nice": false, "zero": false}, "axis": {"values": [-50, -25, 0, 25, 50], "tickCount": 10, "format": "d", "title": null}}}},
  {"mark": {"type": "line", "color": "black", "strokeWidth": 1.5}, "encoding": {"x": {"field": "n", "type": "quantitative"}, "y": {"field": "predicted", "type": "quantitative", "scale": {"domain": [-62.5, 70.2], "nice": false, "zero": false}}}}
 ]},
{"width": 75, "height": 150, "data": {"values": []}, "mark": "point", "view": {"stroke": null}},
{"width": 143, "height": 150, "title": {"text": ["True: u[n] = u[n-3] * (sin(n) - u[n-3])", "Pred: u[n] = u[n-3] * (sin(n) - tan(arctan(u[n", "Confidence: 0.43"], "offset": -9},
 "data": {"values": [{"n":0,"actual":0,"predicted":0},{"n":1,"actual":0,"predicted":0},{"n":2,"actual":0,"predicted":0},{"n":3,"actual":0,"predicted":0},{"n":4,"actual":0,"predicted":0},{"n":5,"actual":0,"predicted":0},{"n":6,"actual":0,"predicted":0},{"n":7,"actual":0,"predicted":0},{"n":8,"actual":0,"predicted":0},{"n":9,"actual":0,"predicted":0},{"n":10,"actual":0,"predicted":0},{"n":11,"actual":0,"predicted":0},{"n":12,"actual":0,"predicted":0},{"n":13,"actual":0,"predicted":0},{"n":14,"actual":0,"predicted":0},{"n":15,"actual":0,"predicted":0},{"n":16,"actual":0,"predicted":0},{"n":17,"actual":0,"predicted":0},{"n":18,"actual":0,"predicted":0},{"n":19,"actual":0,"predicted":0},{"n":20,"actual":0,"predicted":0},{"n":21,"actual":0,"predicted":0},{"n":22,"actual":0,"predicted":0},{"n":23,"actual":0,"predicted":0},{"n":24,"actual":0,"predicted":0},{"n":25,"actual":0,"predicted":0},{"n":26,"actual":0,"predicted":0},{"n":27,"actual":-1.69e231,"predicted":0},{"n":28,"actual":null,"predicted":0},{"n":29,"actual":0,"predicted":0}]},
 "layer": [
  {"data": {"name": "regions"}, "transform": [{"filter": "datum.part === 'train'"}], "mark": {"type": "rect", "fill": "green", "stroke": "green", "fillOpacity": 0.1, "strokeOpacity": 0.1, "strokeWidth": 1}, "encoding": {"x": {"field": "from", "type": "quantitative", "scale": {"domain": [-1.5, 31.5], "nice": false, "zero": false}, "axis": {"values": [0, 10, 20, 30], "tickCount": 10, "format": "d", "title": null}}, "x2": {"field": "to"}}},
  {"data": {"name": "regions"}, "transform": [{"filter": "datum.part === 'test'"}], "mark": {"type": "rect", "fill": "blue", "stroke": "blue", "fillOpacity": 0.1, "strokeOpacity": 0.1, "strokeWidth": 1}, "encoding": {"x": {"field": "from", "type": "quantitative"}, "x2": {"field": "to"}}},
  {"mark": {"type": "point", "filled": true, "size": 28, "opacity": 1}, "encoding": {"x": {"field": "n", "type": "quantitative"}, "y": {"field": "actual", "type": "quantitative", "scale": {"domain": [-1.775e231, 0.0845e231], "nice": false, "zero": false}, "axis": {"values": [-1.5e231, -1e231, -0.5e231, 0], "tickCount": 10, "labelExpr": "format(datum.value/1e231, '.1f')", "title": "1e231", "titleAngle": 0, "titleX": 0, "titleY": -2, "titleAlign": "left", "titleBaseline": "alphabetic"}},
    "color": {"datum": "True", "type": "nominal", "scale": {"domain": ["Pred", "True"], "range": ["black", "red"]}, "legend": {"title": null, "orient": "bottom-left", "offset": 4, "padding": 4, "rowPadding": 4.5, "symbolOffset": 5.6, "labelOffset": 13, "symbolSize": 30, "symbolStrokeWidth": 1.5, "labelFont": "DejaVu Serif", "labelFontSize": 9, "labelColor": "black", "fillColor": "rgba(255,255,255,0.8)", "strokeColor": "#cccccc", "cornerRadius": 3}},
    "shape": {"datum": "True", "type": "nominal", "scale": {"domain": ["Pred", "True"], "range": ["M-3.6,0H3.6", "circle"]}, "legend": {"title": null, "orient": "bottom-left", "offset": 4, "padding": 4, "rowPadding": 4.5, "symbolOffset": 5.6, "labelOffset": 13, "symbolSize": 30, "symbolStrokeWidth": 1.5, "labelFont": "DejaVu Serif", "labelFontSize": 9, "labelColor": "black", "fillColor": "rgba(255,255,255,0.8)", "strokeColor": "#cccccc", "cornerRadius": 3}},
    "stroke": {"datum": "True", "type": "nominal", "scale": {"domain": ["Pred", "True"], "range": ["black", "transparent"]}, "legend": {"title": null, "orient": "bottom-left", "offset": 4, "padding": 4, "rowPadding": 4.5, "symbolOffset": 5.6, "labelOffset": 13, "symbolSize": 30, "symbolStrokeWidth": 1.5, "labelFont": "DejaVu Serif", "labelFontSize": 9, "labelColor": "black", "fillColor": "rgba(255,255,255,0.8)", "strokeColor": "#cccccc", "cornerRadius": 3}}}},
  {"mark": {"type": "line", "color": "black", "strokeWidth": 1.5}, "encoding": {"x": {"field": "n", "type": "quantitative"}, "y": {"field": "predicted", "type": "quantitative", "scale": {"domain": [-1.775e231, 0.0845e231], "nice": false, "zero": false}}}}
 ]}
]
}
